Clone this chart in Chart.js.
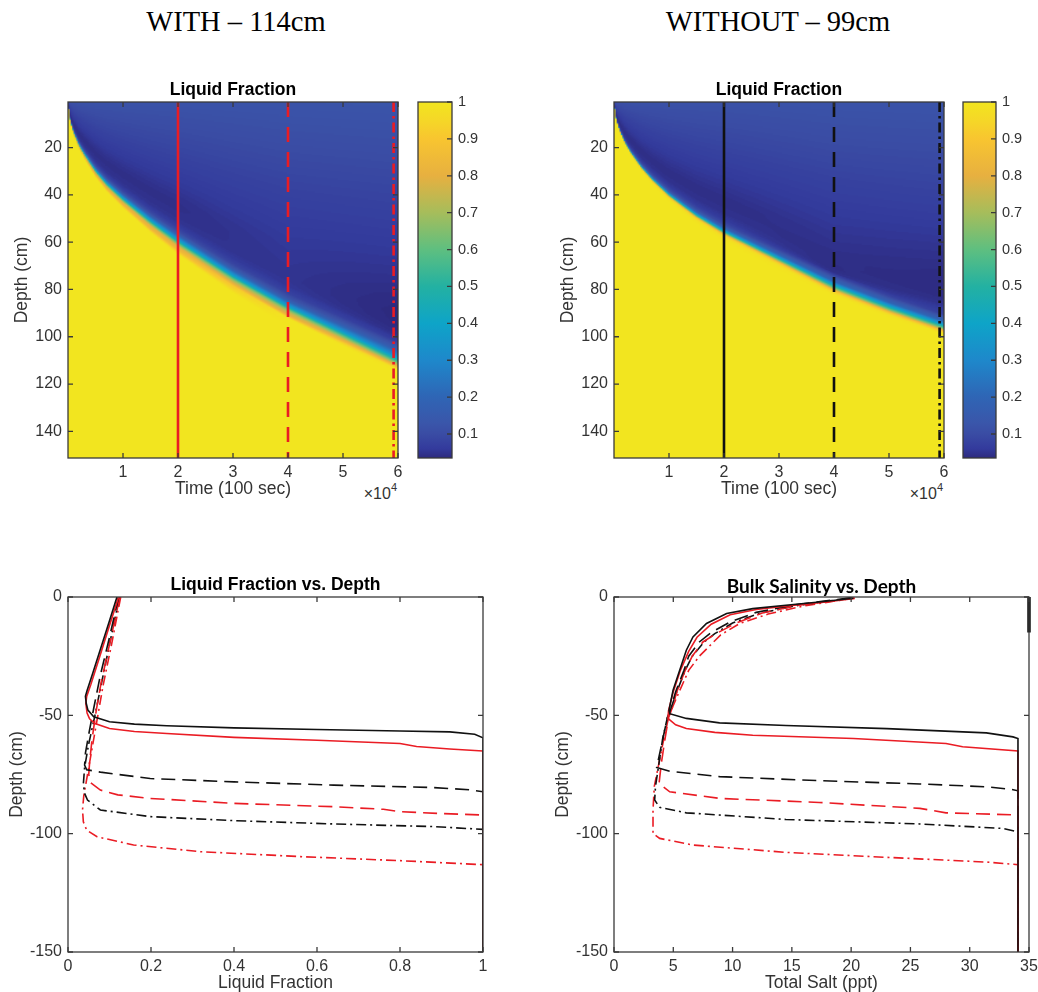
<!DOCTYPE html>
<html>
<head>
<meta charset="utf-8">
<script src="https://cdn.jsdelivr.net/npm/chart.js@4.4.1/dist/chart.umd.min.js"></script>
<style>
  html, body { margin: 0; padding: 0; background: #fff; overflow: hidden; }
  body { width: 1038px; height: 992px; position: relative; font-family: "Liberation Sans", Arial, sans-serif; }
  canvas { position: absolute; }
  .run { position: absolute; top: 5px; font: 28.5px/34px "Liberation Serif", "Times New Roman", serif; color: #000; white-space: nowrap; transform: translateX(-50%); }
  .exp { position: absolute; top: 486px; font-size: 16px; line-height: 16px; color: #333; white-space: nowrap; transform: translateX(-100%); }
  .exp span { font-size: 11px; position: relative; top: -8px; }
</style>
</head>
<body>
<div class="run" style="left:236px">WITH – 114cm</div>
<div class="run" style="left:778px">WITHOUT – 99cm</div>
<div class="exp" style="left:397px">×10<span>4</span></div>
<div class="exp" style="left:943px">×10<span>4</span></div>
<script>
// ---- data -------------------------------------------------------------

// heat map axes (time in units of 10^4 x 100 sec, depth in cm)
const heatTimeTicks = [1, 2, 3, 4, 5, 6];
const heatDepthTicks = [20, 40, 60, 80, 100, 120, 140];
const colorbarTicks = [0.1, 0.2, 0.3, 0.4, 0.5, 0.6, 0.7, 0.8, 0.9, 1];
const fracTicks = [0, 0.2, 0.4, 0.6, 0.8, 1];
const saltTicks = [0, 5, 10, 15, 20, 25, 30, 35];
const depthTicks = [-150, -100, -50, 0];

// times at which the depth profiles were taken
const profileTimes = [2, 4, 5.92];

// freezing front depth (cm) against time
const frontTimes   = [0, 0.02, 0.05, 0.1, 0.2, 0.3, 0.5, 0.7, 1, 1.5, 2, 3, 4, 5, 6];
const frontWith    = [0, 6, 9.5, 13.5, 19, 23, 30, 35.5, 42, 51.5, 60, 75, 88, 99, 110];
const frontWithout = [0, 5.7, 9, 12.7, 18, 22, 28.5, 33.7, 40.3, 49, 56, 67.5, 79, 88, 96];

// liquid fraction profiles, [fraction, depth]
const fracWith2 = [[0.122,0],[0.10,-12],[0.075,-26],[0.055,-37],[0.045,-42],[0.043,-45],[0.046,-49],[0.052,-51.5],[0.065,-53.5],[0.10,-55.6],[0.16,-56.8],[0.238,-57.7],[0.40,-59.3],[0.60,-60.5],[0.80,-61.9],[0.84,-63.2],[0.92,-64.2],[1.0,-65.1],[1.0,-150]];
const fracWith4 = [[0.125,0],[0.10,-20],[0.08,-36],[0.068,-48],[0.058,-60],[0.052,-70],[0.05,-75],[0.055,-78.5],[0.078,-81.6],[0.12,-83.6],[0.198,-85.1],[0.40,-87.2],[0.64,-88.6],[0.76,-89.7],[0.80,-90.7],[0.90,-91.5],[1.0,-92.1],[1.0,-150]];
const fracWith6 = [[0.127,0],[0.105,-20],[0.085,-37],[0.072,-50],[0.06,-62],[0.048,-74],[0.038,-84],[0.035,-90],[0.037,-95],[0.045,-98.5],[0.07,-101.3],[0.158,-104.8],[0.319,-107.6],[0.56,-109.7],[0.80,-111.4],[1.0,-113.1],[1.0,-150]];
const fracWithout2 = [[0.118,0],[0.10,-10],[0.08,-21],[0.06,-32],[0.046,-39.5],[0.042,-42],[0.044,-45],[0.048,-47.8],[0.062,-50.6],[0.10,-52.7],[0.16,-53.7],[0.238,-54.4],[0.40,-55.3],[0.60,-56],[0.80,-56.6],[0.92,-57],[0.98,-58],[1.0,-59.5],[1.0,-150]];
const fracWithout4 = [[0.122,0],[0.10,-17],[0.078,-33],[0.062,-47],[0.05,-58],[0.042,-66],[0.04,-71],[0.045,-73],[0.078,-74],[0.198,-76.7],[0.40,-78.1],[0.64,-79.5],[0.88,-80.5],[0.97,-81.5],[1.0,-82.3],[1.0,-150]];
const fracWithout6 = [[0.124,0],[0.10,-20],[0.08,-37],[0.065,-50],[0.05,-62],[0.04,-72],[0.037,-79],[0.04,-83],[0.047,-85.8],[0.078,-90],[0.198,-92.8],[0.40,-94.5],[0.64,-95.9],[0.88,-97],[1.0,-98.2],[1.0,-150]];

// bulk salinity profiles, [ppt, depth]
const saltWith2 = [[20.3,-0.6],[17.5,-2.3],[14.6,-3.8],[12,-5.3],[9.8,-7.5],[8.2,-11.5],[7.0,-17],[6.3,-23],[5.6,-31],[5.0,-40],[4.6,-48],[4.55,-51.3],[5.2,-54],[6.1,-55.6],[8.5,-57.2],[11.7,-58.4],[20.2,-59.8],[28,-61.9],[29.4,-63.3],[34.07,-65.1],[34.07,-150]];
const saltWith4 = [[20.2,-0.4],[15.5,-3.5],[12.5,-6.8],[10.3,-11],[8.6,-15.5],[7.5,-19],[6.6,-25],[6.0,-31],[5.3,-40],[4.9,-47],[4.6,-51],[4.3,-60],[4.0,-70],[3.8,-78.8],[4.7,-82.3],[8.9,-85.1],[17.3,-86.8],[25.8,-89.3],[28,-91.2],[34.07,-92.1],[34.07,-150]];
const saltWith6 = [[20.3,-0.4],[16,-3.8],[13,-7.2],[10.6,-11.2],[9,-16],[8.4,-19],[7.2,-25],[6.3,-31],[5.5,-40],[4.9,-47],[4.6,-51],[4.2,-60],[3.8,-70],[3.4,-80],[3.29,-90],[3.29,-99.9],[3.85,-102],[6.66,-104.8],[14.5,-107.9],[23,-110],[31.4,-112],[34.07,-113.1],[34.07,-150]];
const saltWithout2 = [[20.2,-0.5],[17.3,-2.1],[14.5,-3.5],[11.7,-4.9],[9.5,-7.0],[7.8,-11.2],[6.66,-16.9],[6.1,-22.5],[5.54,-30.9],[4.98,-39.4],[4.64,-47.8],[4.7,-49.3],[6.1,-51.3],[8.9,-53.2],[14.5,-54.3],[23,-55.6],[31.4,-57.4],[33.65,-59.1],[34.07,-59.8],[34.07,-150]];
const saltWithout4 = [[20,-0.3],[15,-3.5],[12,-6.5],[9.8,-10.5],[8.2,-15],[7.2,-19],[6.3,-25],[5.9,-31],[5.2,-40],[4.8,-47],[4.5,-51],[4.2,-58],[3.9,-65],[3.6,-72],[4.7,-73.6],[8.9,-75.9],[17.3,-77.6],[25.8,-79],[31.4,-80.2],[33.5,-81.3],[34.07,-81.9],[34.07,-150]];
const saltWithout6 = [[20.1,-0.3],[15.2,-3.8],[12.2,-7],[10.0,-11],[8.5,-15.5],[7.6,-19],[6.6,-25],[6.0,-31],[5.3,-40],[4.8,-47],[4.5,-51],[4.1,-60],[3.8,-70],[3.5,-80],[3.43,-85.8],[3.85,-88.9],[6.1,-91.2],[14.5,-94],[25.8,-95.9],[32.8,-97.8],[34.07,-99.2],[34.07,-150]];
const saltEdgeMark = [[35,0],[35,-15]];

// ---- styles -----------------------------------------------------------

const sans = '"Liberation Sans", Arial, sans-serif';
const textColor = '#333';
const axisColor = '#3a3a3a';
const red = '#ea1c24';
const black = '#111';
const heatDashes = [[], [15, 10], [10, 4, 2.5, 4]];
const lineDashes = [[], [14, 7], [10, 4, 2, 4]];

// colour scale (liquid fraction -> colour)
const cbarMin = 0.035, cbarMax = 1;
const cmapStops = [0.035, 0.06, 0.1, 0.13, 0.2, 0.3, 0.4, 0.5, 0.6, 0.7, 0.8, 0.9, 0.95, 1];
const cmapColors = ['#2d2a7e', '#333a9c', '#3a4ca4', '#3a56aa', '#2f65b5', '#1e88cb', '#0ea4c8', '#23b1a2', '#5ebf80', '#a6bd5b', '#e7b040', '#f8c530', '#f5d727', '#f2e51f'];

const hexRgb = h => [1, 3, 5].map(i => parseInt(h.slice(i, i + 2), 16));
const cmapLut = Array.from({ length: 256 }, (_, i) => {
  const v = cbarMin + (cbarMax - cbarMin) * i / 255;
  let k = 0;
  while (k < cmapStops.length - 2 && v > cmapStops[k + 1]) k++;
  const w = Math.min(1, Math.max(0, (v - cmapStops[k]) / (cmapStops[k + 1] - cmapStops[k])));
  const a = hexRgb(cmapColors[k]), b = hexRgb(cmapColors[k + 1]);
  return a.map((c, j) => Math.round(c + w * (b[j] - c)));
});
const colourOf = v => cmapLut[Math.max(0, Math.min(255, Math.round((v - cbarMin) / (cbarMax - cbarMin) * 255)))];

// ---- helpers ----------------------------------------------------------

function interp(xs, ys, v) {
  if (v <= xs[0]) return ys[0];
  for (let i = 1; i < xs.length; i++) {
    if (v <= xs[i]) {
      const w = (v - xs[i - 1]) / (xs[i] - xs[i - 1]);
      return ys[i - 1] + w * (ys[i] - ys[i - 1]);
    }
  }
  return ys[ys.length - 1];
}

const asProfile = pts => ({ depth: pts.map(p => -p[1]), frac: pts.map(p => p[0]) });

// liquid fraction at (t, d): profiles rescaled by the front position
function liquidFraction(run, t, d) {
  const f = interp(frontTimes, run.front, t);
  if (f <= 0) return 1;
  const at = k => {
    const p = run.profiles[k];
    const fk = interp(frontTimes, run.front, profileTimes[k]);
    return interp(p.depth, p.frac, d * fk / f);
  };
  const n = profileTimes.length;
  if (t <= profileTimes[0]) return at(0);
  if (t >= profileTimes[n - 1]) return at(n - 1);
  let k = 0;
  while (t > profileTimes[k + 1]) k++;
  const w = (t - profileTimes[k]) / (profileTimes[k + 1] - profileTimes[k]);
  return (1 - w) * at(k) + w * at(k + 1);
}

const runWith = { front: frontWith, profiles: [fracWith2, fracWith4, fracWith6].map(asProfile) };
const runWithout = { front: frontWithout, profiles: [fracWithout2, fracWithout4, fracWithout6].map(asProfile) };

// heat map drawn underneath the datasets, cell grid sized from the scales
function fieldLayer(run) {
  let image = null;
  return {
    id: 'fieldLayer',
    beforeDatasetsDraw(chart) {
      const { ctx, chartArea: a, scales: { x, y } } = chart;
      if (!image) {
        const cols = 240, rows = 301;
        image = document.createElement('canvas');
        image.width = cols; image.height = rows;
        const ictx = image.getContext('2d');
        const img = ictx.createImageData(cols, rows);
        for (let j = 0; j < rows; j++) {
          const d = y.min + (j + 0.5) * (y.max - y.min) / rows;
          for (let i = 0; i < cols; i++) {
            const t = x.min + (i + 0.5) * (x.max - x.min) / cols;
            const c = colourOf(liquidFraction(run, t, d));
            const o = (j * cols + i) * 4;
            img.data[o] = c[0]; img.data[o + 1] = c[1]; img.data[o + 2] = c[2]; img.data[o + 3] = 255;
          }
        }
        ictx.putImageData(img, 0, 0);
      }
      const x0 = x.getPixelForValue(x.min), x1 = x.getPixelForValue(x.max);
      const y0 = y.getPixelForValue(y.min), y1 = y.getPixelForValue(y.max);
      ctx.save();
      ctx.beginPath();
      ctx.rect(a.left, a.top, a.width, a.height);
      ctx.clip();
      ctx.imageSmoothingEnabled = true;
      ctx.drawImage(image, x0, y0, x1 - x0, y1 - y0);
      ctx.restore();
    }
  };
}

// colour bar fill
const colorbarFill = {
  id: 'colorbarFill',
  beforeDatasetsDraw(chart) {
    const { ctx, chartArea: a, scales: { y } } = chart;
    const g = ctx.createLinearGradient(0, a.bottom, 0, a.top);
    cmapStops.forEach((v, i) => {
      g.addColorStop((a.bottom - y.getPixelForValue(v)) / a.height, cmapColors[i]);
    });
    ctx.fillStyle = g;
    ctx.fillRect(a.left, a.top, a.width, a.height);
  }
};

// box outline with inward ticks
const boxAxes = {
  id: 'boxAxes',
  afterDatasetsDraw(chart, args, opts) {
    if (!opts.mode) return;
    const { ctx, chartArea: a, scales } = chart;
    const len = 5;
    ctx.save();
    ctx.strokeStyle = axisColor;
    ctx.lineWidth = 1.3;
    ctx.setLineDash([]);
    ctx.beginPath();
    if (opts.mode === 'box') {
      scales.x.ticks.forEach(t => {
        const p = scales.x.getPixelForValue(t.value);
        ctx.moveTo(p, a.bottom); ctx.lineTo(p, a.bottom - len);
        ctx.moveTo(p, a.top); ctx.lineTo(p, a.top + len);
      });
    }
    scales.y.ticks.forEach(t => {
      const p = scales.y.getPixelForValue(t.value);
      if (opts.mode === 'box') { ctx.moveTo(a.left, p); ctx.lineTo(a.left + len, p); }
      ctx.moveTo(a.right, p); ctx.lineTo(a.right - len, p);
    });
    ctx.stroke();
    ctx.strokeRect(a.left, a.top, a.width, a.height);
    ctx.restore();
  }
};

const panelTitle = {
  id: 'panelTitle',
  afterDraw(chart, args, opts) {
    if (!opts.text) return;
    const { ctx, chartArea: a } = chart;
    ctx.save();
    ctx.font = opts.font;
    ctx.fillStyle = '#000';
    ctx.textAlign = 'center';
    ctx.textBaseline = 'middle';
    ctx.fillText(opts.text, (a.left + a.right) / 2, a.top - opts.offset);
    ctx.restore();
  }
};

Chart.register(boxAxes, panelTitle);

function makeCanvas(box) {
  const c = document.createElement('canvas');
  c.width = box.width;
  c.height = box.height;
  c.style.left = box.left + 'px';
  c.style.top = box.top + 'px';
  document.body.appendChild(c);
  return c;
}

function axis(o) {
  return {
    type: 'linear',
    display: o.display !== false,
    position: o.position,
    min: o.min, max: o.max,
    reverse: !!o.reverse,
    afterBuildTicks: s => { s.ticks = (o.ticks || []).map(v => ({ value: v })); },
    afterFit: s => {
      if (o.size === undefined) return;
      if (s.isHorizontal()) s.height = o.size; else s.width = o.size;
    },
    grid: { display: false, drawTicks: false },
    border: { display: false },
    ticks: {
      padding: o.pad, autoSkip: false, maxRotation: 0, color: textColor,
      font: { family: sans, size: o.tickSize || 16 },
      callback: v => String(+Number(v).toFixed(3))
    },
    title: o.title
      ? { display: true, text: o.title, color: textColor, padding: 0, font: { family: sans, size: 17.5, lineHeight: 1 } }
      : { display: false }
  };
}

function baseOptions(padding, scales, plugins) {
  return {
    responsive: false,
    devicePixelRatio: 1,
    animation: false,
    events: [],
    layout: { padding },
    scales,
    plugins: Object.assign({ legend: { display: false }, tooltip: { enabled: false } }, plugins)
  };
}

const titleFont = 'bold 17.5px ' + sans;

// ---- heat maps --------------------------------------------------------

function heatPanel(box, run, colour) {
  const depthRange = [0.75, 151.25];
  return new Chart(makeCanvas(box), {
    type: 'scatter',
    data: {
      datasets: profileTimes.map((t, k) => ({
        data: [{ x: t, y: depthRange[0] }, { x: t, y: depthRange[1] }],
        showLine: true,
        pointRadius: 0,
        borderColor: colour,
        borderWidth: 2.6,
        borderDash: heatDashes[k]
      }))
    },
    options: baseOptions(box.padding, {
      x: axis({ position: 'bottom', min: 0, max: 6, ticks: heatTimeTicks, size: 40, pad: 5, title: 'Time (100 sec)' }),
      y: axis({ position: 'left', min: depthRange[0], max: depthRange[1], reverse: true, ticks: heatDepthTicks, size: 55, pad: 6, title: 'Depth (cm)' })
    }, {
      boxAxes: { mode: 'box' },
      panelTitle: { text: 'Liquid Fraction', font: titleFont, offset: 12 }
    }),
    plugins: [fieldLayer(run)]
  });
}

function colorbarPanel(box) {
  return new Chart(makeCanvas(box), {
    type: 'scatter',
    data: { datasets: [] },
    options: baseOptions(box.padding, {
      x: axis({ display: false, position: 'bottom', min: 0, max: 1 }),
      y: axis({ position: 'right', min: cbarMin, max: cbarMax, ticks: colorbarTicks, size: box.axisWidth, pad: 6, tickSize: 14.5 })
    }, {
      boxAxes: { mode: 'bar' }
    }),
    plugins: [colorbarFill]
  });
}

heatPanel({ left: 0, top: 60, width: 412, height: 455, padding: { left: 13, top: 42, right: 14, bottom: 17 } }, runWith, red);
heatPanel({ left: 530, top: 60, width: 425, height: 455, padding: { left: 29, top: 42, right: 11, bottom: 17 } }, runWithout, black);
colorbarPanel({ left: 405, top: 60, width: 110, height: 455, axisWidth: 50, padding: { left: 13, top: 42, right: 13, bottom: 57 } });
colorbarPanel({ left: 956, top: 60, width: 82, height: 455, axisWidth: 40, padding: { left: 7, top: 42, right: 2, bottom: 57 } });

// ---- depth profiles ---------------------------------------------------

function profileSets(withRun, withoutRun) {
  const sets = [];
  [0, 1, 2].forEach(k => {
    sets.push({ pts: withoutRun[k], colour: black, dash: lineDashes[k] });
    sets.push({ pts: withRun[k], colour: red, dash: lineDashes[k] });
  });
  return sets.map(s => ({
    data: s.pts.map(p => ({ x: p[0], y: p[1] })),
    showLine: true,
    pointRadius: 0,
    borderColor: s.colour,
    borderWidth: 1.6,
    borderDash: s.dash
  }));
}

new Chart(makeCanvas({ left: 0, top: 560, width: 505, height: 432 }), {
  type: 'scatter',
  data: { datasets: profileSets([fracWith2, fracWith4, fracWith6], [fracWithout2, fracWithout4, fracWithout6]) },
  options: baseOptions({ left: 8, top: 37, right: 22, bottom: 0 }, {
    x: axis({ position: 'bottom', min: 0, max: 1, ticks: fracTicks, size: 40, pad: 5, title: 'Liquid Fraction' }),
    y: axis({ position: 'left', min: -150, max: 0, ticks: depthTicks, size: 60, pad: 6, title: 'Depth (cm)' })
  }, {
    boxAxes: { mode: 'box' },
    panelTitle: { text: 'Liquid Fraction vs. Depth', font: titleFont, offset: 12 }
  })
});

const saltSets = profileSets([saltWith2, saltWith4, saltWith6], [saltWithout2, saltWithout4, saltWithout6]);
saltSets.push({
  data: saltEdgeMark.map(p => ({ x: p[0], y: p[1] })),
  showLine: true, pointRadius: 0, borderColor: black, borderWidth: 3.5, clip: false
});

new Chart(makeCanvas({ left: 530, top: 560, width: 518, height: 432 }), {
  type: 'scatter',
  data: { datasets: saltSets },
  options: baseOptions({ left: 24.5, top: 37, right: 19, bottom: 0 }, {
    x: axis({ position: 'bottom', min: 0, max: 35, ticks: saltTicks, size: 40, pad: 5, title: 'Total Salt (ppt)' }),
    y: axis({ position: 'left', min: -150, max: 0, ticks: depthTicks, size: 59.5, pad: 6, title: 'Depth (cm)' })
  }, {
    boxAxes: { mode: 'box' },
    panelTitle: { text: 'Bulk Salinity vs. Depth', font: 'bold 19px Lato, "Open Sans", sans-serif', offset: 10.3 }
  })
});
</script>
</body>
</html>
